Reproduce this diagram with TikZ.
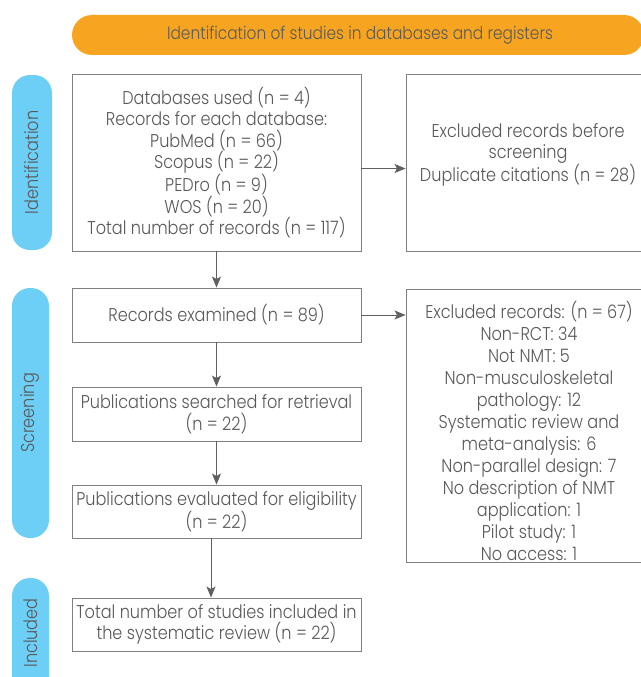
\documentclass[tikz,border=0pt]{standalone}
\usepackage{fontspec}
\setmainfont{Poppins}[UprightFont=* Light, FakeStretch=0.87]
\usetikzlibrary{arrows.meta}
\definecolor{orng}{HTML}{F7A520}
\definecolor{pillc}{HTML}{6DCFF6}
\definecolor{txt}{HTML}{595959}
\definecolor{bord}{HTML}{808080}
\definecolor{arr}{HTML}{606060}
\newcommand{\bodyfont}{\fontsize{18.5}{21.5}\selectfont}
\newcommand{\exfont}{\fontsize{18.5}{22}\selectfont}
\newcommand{\banfont}{\fontsize{17.7}{21}\selectfont}
\tikzset{
  box/.style={draw=bord, line width=0.9pt, minimum width=289pt, inner sep=0pt, text=txt, align=center, font=\bodyfont},
  exbox/.style={draw=bord, line width=0.9pt, minimum width=246pt, inner sep=0pt},
  lbl/.style={inner sep=0pt, text=txt, align=center, font=\bodyfont},
  pill/.style={fill=pillc, rounded corners=18pt, inner sep=0pt},
  ptext/.style={rotate=90, inner sep=0pt, text=txt, font=\bodyfont},
  flow/.style={draw=arr, line width=0.9pt, -{Stealth[length=11pt,width=9pt,inset=2.5pt]}}
}
\begin{document}
\begin{tikzpicture}[x=1pt,y=-1pt]
\useasboundingbox (0,0) rectangle (640,677);
\fill[white] (0,0) rectangle (640,677);
% banner
\node[fill=orng, rounded corners=20pt, minimum width=572pt, minimum height=40pt, inner sep=0pt, text=txt, font=\banfont] (ban) at (358,35) {\hspace*{4pt}Identification of studies in databases and registers};
% pills
\node[pill, minimum width=40pt, minimum height=175pt] (p1) at (32,162.5) {};
\node[ptext] (p1t) at (p1.center) {Identification};
\node[pill, minimum width=37pt, minimum height=250pt] (p2) at (30.5,413) {};
\node[ptext] (p2t) at (p2.center) {Screening};
\node[pill, minimum width=37pt, minimum height=130pt] (p3) at (30.5,643) {};
\node[ptext] (p3t) at (30.5,633) {Included};
% main boxes
\node[box, minimum height=177pt] (b1) at (216.5,162.5) {Databases used (n = 4)\\Records for each database:\\PubMed (n = 66)\\Scopus (n = 22)\\PEDro (n = 9)\\WOS (n = 20)\\Total number of records (n = 117)};
\node[box, minimum height=54pt] (b2) at (216.5,315) {Records examined (n = 89)};
\node[box, minimum height=54pt] (b3) at (216.5,414) {Publications searched for retrieval\\(n = 22)};
\node[box, minimum height=53pt] (b4) at (216.5,511.5) {Publications evaluated for eligibility\\(n = 22)};
\node[box, minimum height=53pt] (b5) at (216.5,624.5) {Total number of studies included in\\the systematic review (n = 22)};
% excluded boxes
\node[exbox, minimum height=177pt] (e1) at (529,162.5) {};
\node[lbl] (e1t) at (528,155) {Excluded records before\\screening\\Duplicate citations (n = 28)};
\node[exbox, minimum height=273pt] (e2) at (529,425.5) {};
\node[lbl, font=\exfont] (e2t) at (529,431) {Excluded records: (n = 67)\\Non-RCT: 34\\Not NMT: 5\\Non-musculoskeletal\\pathology: 12\\Systematic review and\\meta-analysis: 6\\Non-parallel design: 7\\No description of NMT\\application: 1\\Pilot study: 1\\No access: 1};
% connectors
\draw[flow] (b1.south) -- (b2.north);
\draw[flow] (b2.south) -- (b3.north);
\draw[flow] (b3.south) -- (b4.north);
\draw[flow] ([xshift=-5.5pt]b4.south) -- ([xshift=-5.5pt]b5.north);
\draw[flow] ([yshift=-6pt]b1.east) -- ([yshift=-6pt]b1.east -| e1.west);
\draw[flow] (b2.east) -- (b2.east -| e2.west);
\end{tikzpicture}
\end{document}
